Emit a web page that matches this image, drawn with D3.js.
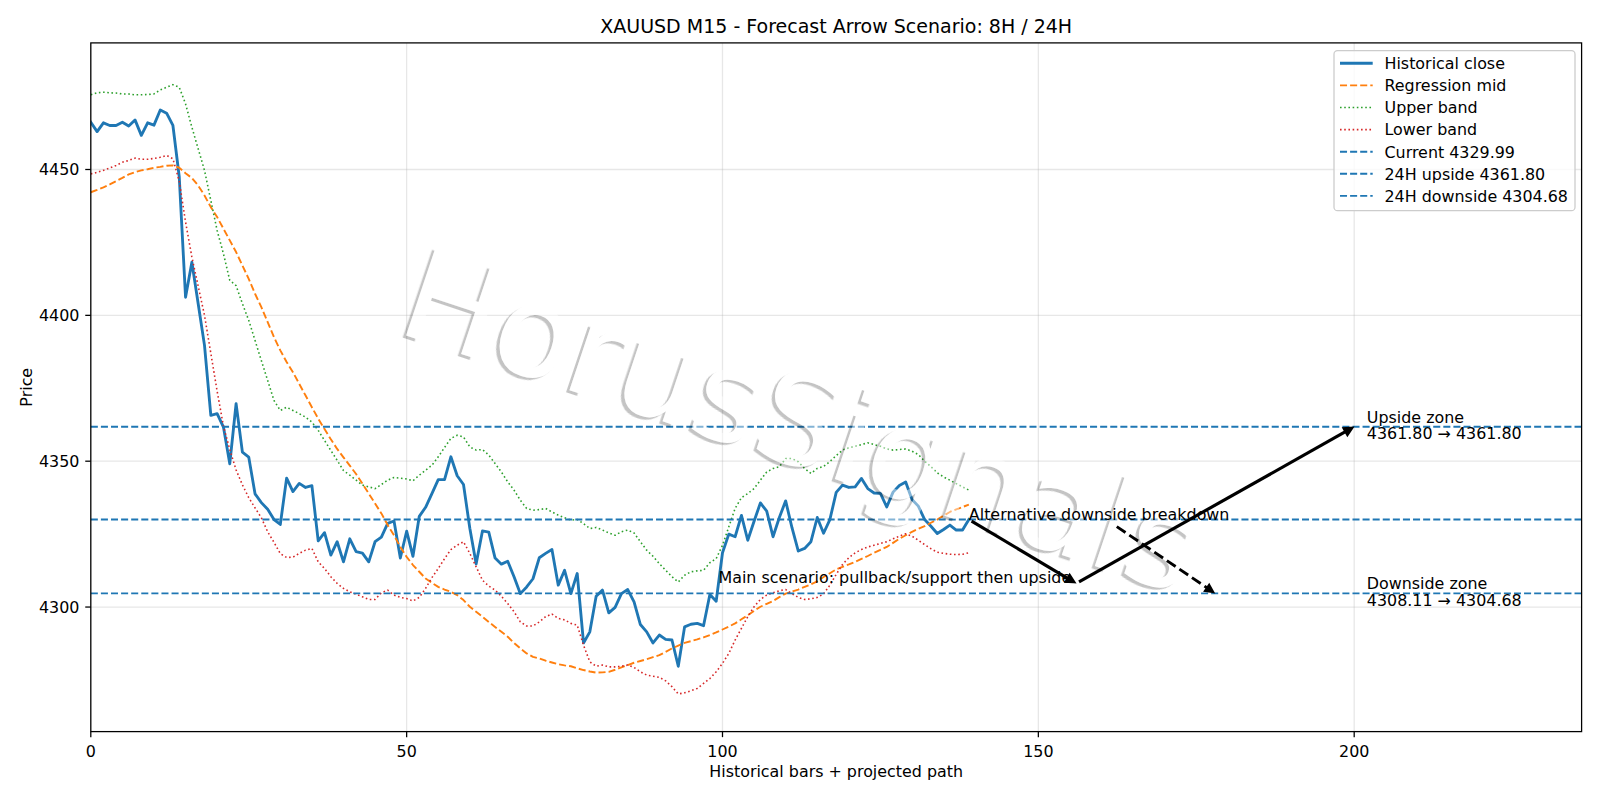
<!DOCTYPE html>
<html><head><meta charset="utf-8">
<script src="https://cdn.jsdelivr.net/npm/d3@7"></script>
<style>
body{margin:0;background:#fff;}
text{font-family:"DejaVu Sans",sans-serif;}
</style>
</head><body>
<svg id="chart" width="1600" height="800"></svg>
<script>
// ---------------- DATA ----------------
const closeVals = [4466.2,4463.0,4466.0,4465.1,4465.1,4466.2,4464.9,4467.0,4461.7,4466.0,
4465.2,4470.4,4469.3,4465.1,4447.5,4406.2,4418.2,4404.0,4389.7,4365.7,
4366.3,4361.7,4349.1,4369.7,4353.1,4351.4,4338.8,4335.8,4333.5,4330.0,
4328.3,4344.2,4339.6,4342.4,4341.0,4341.6,4322.7,4325.5,4317.8,4322.4,
4315.5,4323.4,4319.0,4318.5,4315.5,4322.4,4324.0,4328.7,4329.5,4316.8,
4326.0,4317.4,4331.1,4334.2,4338.9,4343.7,4343.7,4351.5,4345.0,4342.0,
4327.0,4314.8,4326.1,4325.7,4316.8,4314.7,4315.7,4310.4,4304.6,4306.9,
4309.7,4316.9,4318.4,4319.7,4307.5,4312.6,4304.6,4311.5,4287.7,4291.5,
4303.7,4305.8,4298.0,4299.9,4304.6,4306.0,4301.8,4294.0,4291.5,4287.7,
4290.4,4288.9,4288.7,4279.7,4293.2,4294.1,4294.4,4293.6,4304.3,4302.0,
4318.6,4325.0,4324.1,4331.4,4322.9,4329.4,4335.7,4332.9,4324.1,4330.7,
4336.4,4327.2,4319.2,4320.1,4322.4,4330.7,4325.3,4330.0,4339.3,4341.8,
4341.0,4341.2,4344.1,4340.6,4339.1,4339.0,4334.3,4339.4,4341.7,4342.9,
4336.9,4334.6,4330.0,4327.7,4325.2,4326.6,4328.1,4326.4,4326.4,4329.99];

const midVals = [4442.2,4443.0,4443.9,4444.9,4446.0,4447.1,4448.3,4449.1,4449.7,4450.1,
4450.6,4450.9,4451.3,4451.4,4450.6,4448.7,4447.1,4444.5,4441.1,4437.1,
4433.7,4429.7,4425.7,4421.7,4417.1,4412.5,4407.4,4402.8,4397.7,4392.5,
4388.0,4384.0,4380.5,4376.5,4372.5,4368.5,4364.6,4361.0,4357.5,4354.2,
4351.3,4348.5,4345.6,4342.3,4338.9,4335.5,4332.1,4328.1,4324.6,4320.6,
4317.2,4314.4,4312.1,4309.8,4308.3,4306.9,4306.0,4305.2,4304.1,4302.4,
4300.1,4298.4,4296.7,4294.9,4293.2,4291.5,4289.8,4287.7,4285.8,4284.1,
4282.9,4282.4,4281.6,4281.0,4280.4,4280.0,4279.7,4279.0,4278.4,4277.9,
4277.5,4277.6,4277.8,4278.5,4279.3,4280.1,4280.9,4281.5,4282.1,4282.8,
4283.5,4284.6,4285.8,4286.8,4287.7,4288.3,4288.9,4289.6,4290.4,4291.3,
4292.3,4293.3,4294.4,4295.8,4297.2,4298.7,4300.1,4301.1,4302.1,4303.4,
4304.6,4305.3,4306.0,4306.9,4307.8,4308.8,4310.3,4311.6,4312.9,4313.8,
4314.6,4315.5,4316.5,4317.5,4318.6,4319.6,4320.6,4322.0,4323.4,4324.6,
4325.8,4326.8,4327.7,4328.9,4330.0,4331.3,4332.6,4333.5,4334.3,4335.1];

const upperVals = [4475.6,4476.3,4476.5,4476.3,4476.2,4475.9,4475.9,4475.6,4475.6,4475.7,
4475.9,4477.3,4478.2,4479.1,4478.2,4472.5,4464.5,4457.1,4449.7,4439.4,
4429.1,4421.1,4412.0,4410.2,4404.0,4398.3,4391.4,4384.5,4377.7,4370.8,
4367.4,4368.5,4367.4,4366.3,4365.1,4363.4,4360.6,4357.1,4353.7,4350.3,
4346.8,4345.2,4343.5,4341.8,4341.2,4340.6,4342.0,4343.5,4344.4,4344.2,
4343.9,4343.3,4345.2,4346.9,4348.6,4351.5,4354.7,4357.8,4358.9,4358.3,
4354.9,4353.8,4354.0,4352.1,4349.2,4346.3,4342.9,4340.1,4336.6,4333.8,
4333.2,4333.4,4333.8,4332.6,4331.5,4330.6,4329.8,4330.0,4328.6,4326.9,
4327.3,4326.4,4325.4,4324.6,4325.8,4326.4,4325.4,4322.4,4319.5,4317.4,
4314.9,4312.6,4310.4,4308.6,4310.9,4312.1,4312.4,4312.6,4315.2,4316.6,
4321.2,4327.5,4333.8,4337.5,4338.9,4340.6,4343.5,4346.3,4347.5,4348.1,
4350.9,4350.9,4349.8,4347.5,4345.8,4347.5,4348.2,4349.9,4351.9,4353.8,
4354.6,4355.1,4355.7,4356.3,4355.7,4355.1,4354.2,4353.8,4354.0,4354.2,
4353.4,4352.3,4350.0,4348.1,4346.0,4344.6,4343.5,4342.3,4341.2,4340.1];

const lowerVals = [4448.5,4449.0,4449.7,4450.5,4451.4,4452.5,4453.1,4453.9,4453.5,4453.5,
4453.8,4454.2,4454.8,4453.7,4446.0,4432.0,4420.0,4410.0,4400.0,4387.0,
4374.0,4362.0,4354.0,4347.0,4341.9,4337.5,4334.0,4330.6,4325.8,4322.2,
4318.3,4317.0,4317.1,4318.4,4319.5,4320.1,4315.5,4313.2,4310.4,4308.1,
4306.4,4305.2,4304.4,4303.5,4302.6,4302.6,4304.9,4305.8,4304.1,4303.3,
4302.9,4302.1,4303.3,4306.4,4310.1,4313.2,4316.6,4319.7,4321.2,4322.4,
4318.4,4313.8,4309.2,4307.2,4305.8,4303.7,4301.2,4298.4,4294.9,4293.5,
4293.5,4294.9,4296.7,4297.6,4296.1,4295.6,4294.4,4293.8,4286.9,4281.2,
4279.7,4280.1,4279.5,4279.5,4279.7,4280.1,4279.3,4277.8,4276.7,4276.3,
4275.9,4274.7,4272.7,4270.2,4270.6,4271.3,4272.1,4273.8,4275.5,4277.8,
4280.7,4284.1,4288.7,4292.7,4296.7,4300.1,4302.6,4304.1,4304.9,4305.6,
4306.0,4304.6,4303.3,4302.6,4302.8,4303.3,4304.5,4307.5,4311.2,4314.6,
4316.9,4318.6,4319.7,4320.6,4321.2,4321.8,4322.4,4323.4,4324.3,4325.1,
4324.3,4322.9,4321.4,4320.0,4318.8,4318.4,4318.1,4318.0,4318.1,4318.6];

const levelNames  = ["Current", "24H upside", "24H downside"];
const levelValues = [4329.99, 4361.80, 4304.68];
const pivotPrice  = 4308.11;
// projected path: [bar index, price]
const mainPathX = [139, 156, 200];
const mainPathY = [4329.99, 4308.11, 4361.80];
const altPathX  = [162, 178];
const altPathY  = [4328.2, 4304.68];

const xTicks = [0, 50, 100, 150, 200];
const yTicks = [4300, 4350, 4400, 4450];
const xDomain = [0, 236];
const yDomain = [4257.3, 4493.4];

const titleText  = "XAUUSD M15 - Forecast Arrow Scenario: 8H / 24H";
const xLabelText = "Historical bars + projected path";
const yLabelText = "Price";
const mainLabel  = "Main scenario: pullback/support then upside";
const altLabel   = "Alternative downside breakdown";
const watermark  = "HorusSignals";

// ---------------- LAYOUT ----------------
const W = 1600, H = 800;
const L = 90.8, R = 1581.6, T = 42.9, B = 731.6;
const PT = 1.587; // px per pt
const FS = 15.9;  // base font px

const svg = d3.select("#chart");
svg.append("rect").attr("width", W).attr("height", H).attr("fill", "#fff");

const x = d3.scaleLinear().domain(xDomain).range([L, R]);
const y = d3.scaleLinear().domain(yDomain).range([B, T]);

const defs = svg.append("defs");
defs.append("clipPath").attr("id", "clip")
  .append("rect").attr("x", L).attr("y", T).attr("width", R - L).attr("height", B - T);

// grid
const grid = svg.append("g").attr("stroke", "#b0b0b0").attr("stroke-opacity", 0.3)
  .attr("stroke-width", 0.8 * PT);
grid.selectAll(".vg").data(xTicks).join("line")
  .attr("x1", d => x(d)).attr("x2", d => x(d)).attr("y1", T).attr("y2", B);
grid.selectAll(".hg").data(yTicks).join("line")
  .attr("y1", d => y(d)).attr("y2", d => y(d)).attr("x1", L).attr("x2", R);

// series
const plot = svg.append("g").attr("clip-path", "url(#clip)");
const lineGen = d3.line().x((d, i) => x(i)).y(d => y(d));

const dashed = (lw) => `${3.7 * lw * PT},${1.6 * lw * PT}`;
const dotted = (lw) => `${1 * lw * PT},${1.65 * lw * PT}`;

const seriesDefs = [
  {name: "Historical close", vals: closeVals, color: "#1f77b4", lw: 1.8, dash: null},
  {name: "Regression mid",   vals: midVals,   color: "#ff7f0e", lw: 1.2, dash: dashed(1.2)},
  {name: "Upper band",       vals: upperVals, color: "#2ca02c", lw: 1.0, dash: dotted(1.0)},
  {name: "Lower band",       vals: lowerVals, color: "#d62728", lw: 1.0, dash: dotted(1.0)}
];
seriesDefs.forEach(s => {
  plot.append("path").attr("d", lineGen(s.vals))
    .attr("fill", "none").attr("stroke", s.color)
    .attr("stroke-width", s.lw * PT)
    .attr("stroke-linejoin", "round")
    .attr("stroke-linecap", s.dash ? "butt" : "square")
    .attr("stroke-dasharray", s.dash);
});

// horizontal levels
levelValues.forEach(v => {
  plot.append("line").attr("x1", L).attr("x2", R).attr("y1", y(v)).attr("y2", y(v))
    .attr("stroke", "#1f77b4").attr("stroke-width", 1.2 * PT)
    .attr("stroke-dasharray", dashed(1.2));
});

// watermark: translucent white text with a grey offset shadow visible only outside the glyphs
const wmSize = 127;
const mask = defs.append("mask").attr("id", "wmMask")
  .attr("maskUnits", "userSpaceOnUse").attr("x", -2000).attr("y", -2000)
  .attr("width", 4000).attr("height", 4000);
mask.append("rect").attr("x", -2000).attr("y", -2000).attr("width", 4000).attr("height", 4000).attr("fill", "#fff");
mask.append("text").attr("x", 0).attr("y", 0).attr("text-anchor", "middle")
  .attr("font-size", wmSize).attr("fill", "#000").text(watermark);
defs.append("filter").attr("id", "soft").append("feGaussianBlur").attr("stdDeviation", 0.5);
const wm = svg.append("g").attr("transform", "translate(787,463) rotate(18.5)");
wm.append("g").attr("mask", "url(#wmMask)")
  .append("text").attr("x", -2.5).attr("y", 3.2).attr("text-anchor", "middle")
  .attr("font-size", wmSize).attr("fill", "#000").attr("fill-opacity", 0.23)
  .attr("filter", "url(#soft)").text(watermark);
wm.append("text").attr("x", 0).attr("y", 0).attr("text-anchor", "middle")
  .attr("font-size", wmSize).attr("fill", "#fff").attr("fill-opacity", 0.45).text(watermark);

// arrows
function arrow(x0, y0, x1, y1, lw, dash) {
  const p0 = [x(x0), y(y0)], p1 = [x(x1), y(y1)];
  const dx = p1[0] - p0[0], dy = p1[1] - p0[1];
  const len = Math.hypot(dx, dy), ux = dx / len, uy = dy / len;
  const shrink = 2 * PT;
  const s = [p0[0] + ux * shrink, p0[1] + uy * shrink];
  const tip = [p1[0] - ux * shrink, p1[1] - uy * shrink];
  const hl = 0.4 * 10 * PT, hw = 0.2 * 10 * PT;
  const base = [tip[0] - ux * hl, tip[1] - uy * hl];
  const nx = -uy, ny = ux;
  const g = svg.append("g");
  g.append("line").attr("x1", s[0]).attr("y1", s[1]).attr("x2", base[0]).attr("y2", base[1])
    .attr("stroke", "#000").attr("stroke-width", lw * PT).attr("stroke-dasharray", dash);
  g.append("path")
    .attr("d", `M${tip[0]},${tip[1]}L${base[0] + nx * hw},${base[1] + ny * hw}L${base[0] - nx * hw},${base[1] - ny * hw}Z`)
    .attr("fill", "#000").attr("stroke", "#000").attr("stroke-width", lw * PT)
    .attr("stroke-linejoin", "miter");
}
for (let i = 0; i < mainPathX.length - 1; i++) {
  arrow(mainPathX[i], mainPathY[i], mainPathX[i + 1], mainPathY[i + 1], 2.0, null);
}
arrow(altPathX[0], altPathY[0], altPathX[1], altPathY[1], 1.8, dashed(1.8));

// annotation texts
svg.append("text").attr("x", x(mainPathX[1] - 0.8)).attr("y", y(pivotPrice))
  .attr("text-anchor", "end").attr("font-size", FS).attr("fill", "#000").text(mainLabel);
svg.append("text").attr("x", x(mainPathX[0])).attr("y", y(levelValues[0]))
  .attr("text-anchor", "start").attr("font-size", FS).attr("fill", "#000").text(altLabel);

const zoneX = mainPathX[2] + 2;
const zones = [
  {lines: ["Upside zone", `${levelValues[1].toFixed(2)} \u2192 ${mainPathY[2].toFixed(2)}`], v: levelValues[1]},
  {lines: ["Downside zone", `${pivotPrice.toFixed(2)} \u2192 ${levelValues[2].toFixed(2)}`], v: levelValues[2]}
];
zones.forEach(z => {
  z.lines.forEach((t, k) => {
    svg.append("text").attr("x", x(zoneX)).attr("y", y(z.v) - 4.1 + k * 16.6)
      .attr("font-size", FS).attr("fill", "#000").text(t);
  });
});

// spines
svg.append("rect").attr("x", L).attr("y", T).attr("width", R - L).attr("height", B - T)
  .attr("fill", "none").attr("stroke", "#000").attr("stroke-width", 0.8 * PT);

// ticks
const tickLen = 3.5 * PT;
const ax = svg.append("g");
xTicks.forEach(t => {
  ax.append("line").attr("x1", x(t)).attr("x2", x(t)).attr("y1", B).attr("y2", B + tickLen)
    .attr("stroke", "#000").attr("stroke-width", 0.8 * PT);
  ax.append("text").attr("x", x(t)).attr("y", B + 25.3).attr("text-anchor", "middle")
    .attr("font-size", FS).attr("fill", "#000").text(d3.format("d")(t));
});
yTicks.forEach(t => {
  ax.append("line").attr("x1", L - tickLen).attr("x2", L).attr("y1", y(t)).attr("y2", y(t))
    .attr("stroke", "#000").attr("stroke-width", 0.8 * PT);
  ax.append("text").attr("x", L - tickLen - 5.8).attr("y", y(t) + 5.8).attr("text-anchor", "end")
    .attr("font-size", FS).attr("fill", "#000").text(d3.format("d")(t));
});

// labels & title
svg.append("text").attr("x", (L + R) / 2).attr("y", 776.5).attr("text-anchor", "middle")
  .attr("font-size", FS).attr("fill", "#000").text(xLabelText);
svg.append("text").attr("transform", `translate(31.5,${(T + B) / 2}) rotate(-90)`)
  .attr("text-anchor", "middle").attr("font-size", FS).attr("fill", "#000").text(yLabelText);
svg.append("text").attr("x", (L + R) / 2).attr("y", 33).attr("text-anchor", "middle")
  .attr("font-size", 19).attr("fill", "#000").text(titleText);

// legend
const legendItems = seriesDefs.map(s => ({label: s.name, color: s.color, lw: s.lw, dash: s.dash}))
  .concat(levelNames.map((n, i) => ({label: `${n} ${levelValues[i].toFixed(2)}`, color: "#1f77b4", lw: 1.2, dash: dashed(1.2)})));
const lg = svg.append("g");
lg.append("rect").attr("x", 1334).attr("y", 50.7).attr("width", 241).attr("height", 160)
  .attr("rx", 3.5).attr("fill", "#fff").attr("fill-opacity", 0.8)
  .attr("stroke", "#cccccc").attr("stroke-width", 0.8 * PT);
legendItems.forEach((it, k) => {
  const cy = 63.3 + k * 22.1;
  lg.append("line").attr("x1", 1340).attr("x2", 1372.7).attr("y1", cy).attr("y2", cy)
    .attr("stroke", it.color).attr("stroke-width", it.lw * PT).attr("stroke-dasharray", it.dash);
  lg.append("text").attr("x", 1384.5).attr("y", cy + 5.8).attr("font-size", FS)
    .attr("fill", "#000").text(it.label);
});
</script>
</body></html>
